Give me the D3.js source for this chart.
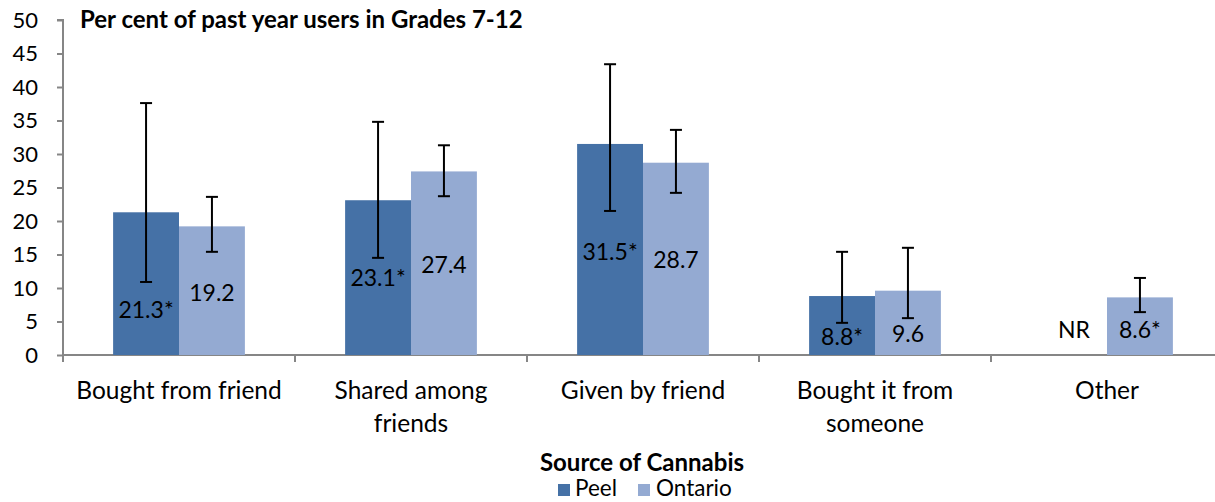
<!DOCTYPE html>
<html><head><meta charset="utf-8">
<script src="https://cdn.jsdelivr.net/npm/d3@7/dist/d3.min.js"></script>
<style>
html,body{margin:0;padding:0;background:#fff;}
svg text{font-family:"Lato","Open Sans",sans-serif;fill:#000;}
</style></head>
<body><svg id="chart" width="1215" height="502"></svg>
<script>
const categories = ["Bought from friend","Shared among friends","Given by friend","Bought it from someone","Other"];
const categoryLines = [["Bought from friend"],["Shared among","friends"],["Given by friend"],["Bought it from","someone"],["Other"]];
const seriesNames = ["Peel","Ontario"];
const peelValues = [21.3, 23.1, 31.5, 8.8, null];
const ontarioValues = [19.2, 27.4, 28.7, 9.6, 8.6];
const peelLow = [10.9, 14.5, 21.5, 4.8, null];
const peelHigh = [37.6, 34.8, 43.4, 15.4, null];
const ontarioLow = [15.4, 23.7, 24.2, 5.5, 6.4];
const ontarioHigh = [23.6, 31.3, 33.6, 16.0, 11.5];
const peelLabels = ["21.3*","23.1*","31.5*","8.8*","NR"];
const ontarioLabels = ["19.2","27.4","28.7","9.6","8.6*"];
const yTicks = [0,5,10,15,20,25,30,35,40,45,50];
const titleText = "Per cent of past year users in Grades 7-12";
const xTitle = "Source of Cannabis";
// layout: label anchor heights (in value units) for manual label placement
const peelLabelAt = [6.7, 11.5, 15.4, 2.7, 3.7];
const ontarioLabelAt = [9.3, 13.4, 14.2, 3.1, 3.7];

const colors = {Peel:"#4571A6", Ontario:"#94AAD2"};
const axisColor = "#868686";

const svg = d3.select("#chart");
const x0 = 63, x1 = 1223, yTop = 20, yBot = 355;
const x = d3.scaleBand().domain(categories).range([x0, x1]);
const bw = x.bandwidth();
const xs = d3.scaleBand().domain(seriesNames).range([bw*0.216, bw*0.784]);
const y = d3.scaleLinear().domain([0,50]).range([yBot, yTop]);

// y axis
const yAxis = d3.axisLeft(y).tickValues(yTicks).tickSize(6).tickPadding(19);
const gy = svg.append("g").attr("transform", `translate(${x0},0)`).call(yAxis);
gy.selectAll("path,line").attr("stroke", axisColor).attr("stroke-width", 2);
gy.select("path").attr("d", `M-6,${yTop}H0V${yBot}`);
gy.selectAll("text").attr("font-size", 22).attr("fill","#000");

// x axis line
const gx = svg.append("g");
gx.append("line").attr("x1", x0).attr("x2", 1215).attr("y1", yBot).attr("y2", yBot)
  .attr("stroke", axisColor).attr("stroke-width", 2);
const bounds = categories.map(c => x(c)).concat([x1]);
gx.selectAll("line.tk").data(bounds).join("line").attr("class","tk")
  .attr("x1", d=>d).attr("x2", d=>d).attr("y1", yBot).attr("y2", yBot+7)
  .attr("stroke", axisColor).attr("stroke-width", 2);

// category labels
categories.forEach((c,i) => {
  const cx = x(c) + bw/2;
  const t = svg.append("text").attr("text-anchor","middle").attr("font-size", 24.5)
    .attr("x", cx).attr("y", 399);
  categoryLines[i].forEach((ln,j) => {
    t.append("tspan").attr("x", cx).attr("dy", j===0?0:33).text(ln);
  });
});

const series = [
  {name:"Peel", vals:peelValues, lo:peelLow, hi:peelHigh, labels:peelLabels, at:peelLabelAt},
  {name:"Ontario", vals:ontarioValues, lo:ontarioLow, hi:ontarioHigh, labels:ontarioLabels, at:ontarioLabelAt}
];

series.forEach(s => {
  const g = svg.append("g");
  categories.forEach((c,i) => {
    const bx = x(c) + xs(s.name);
    const w = xs.bandwidth();
    const v = s.vals[i];
    if (v != null) {
      g.append("rect").attr("x", bx).attr("y", y(v)).attr("width", w).attr("height", y(0)-y(v))
        .attr("fill", colors[s.name]);
    }
    if (s.lo[i] != null) {
      const cx = bx + w/2;
      g.append("line").attr("x1",cx).attr("x2",cx).attr("y1",y(s.hi[i])).attr("y2",y(s.lo[i]))
        .attr("stroke","#000").attr("stroke-width",2);
      [s.hi[i], s.lo[i]].forEach(e => g.append("line").attr("x1",cx-6).attr("x2",cx+6)
        .attr("y1",y(e)).attr("y2",y(e)).attr("stroke","#000").attr("stroke-width",2));
    }
    g.append("text").attr("x", bx + w/2).attr("y", y(s.at[i])).attr("dy","0.35em")
      .attr("text-anchor","middle").attr("font-size",23).text(s.labels[i]);
  });
});

// title
svg.append("text").attr("x", 80).attr("y", 28).attr("font-size", 24).attr("font-weight","bold").text(titleText);
// x title
svg.append("text").attr("x", 642).attr("y", 471).attr("text-anchor","middle").attr("font-size", 24).attr("font-weight","bold").text(xTitle);
// legend
const leg = svg.append("g");
const legItems = [{n:"Peel", sx:558, tx:575},{n:"Ontario", sx:638, tx:656}];
legItems.forEach(d => {
  leg.append("rect").attr("x", d.sx).attr("y", 484).attr("width", 12).attr("height", 12).attr("fill", colors[d.n]);
  leg.append("text").attr("x", d.tx).attr("y", 496).attr("font-size", 22.5).text(d.n);
});
</script></body></html>
